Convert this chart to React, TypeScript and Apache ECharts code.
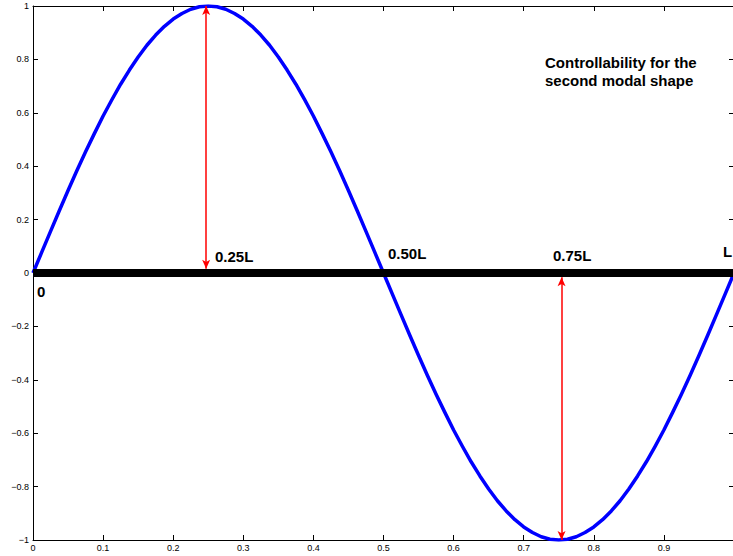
import React, { useEffect, useRef } from "react";
import * as echarts from "echarts";

// Shape (x as fraction of L, deflection), step 0.0125
const xs = [
  0, 0.0125, 0.025, 0.0375, 0.05, 0.0625, 0.075, 0.0875, 0.1, 0.1125, 0.125, 0.1375, 0.15, 0.1625, 0.175, 0.1875, 0.2, 0.2125, 0.225, 0.2375,
  0.25, 0.2625, 0.275, 0.2875, 0.3, 0.3125, 0.325, 0.3375, 0.35, 0.3625, 0.375, 0.3875, 0.4, 0.4125, 0.425, 0.4375, 0.45, 0.4625, 0.475, 0.4875,
  0.5, 0.5125, 0.525, 0.5375, 0.55, 0.5625, 0.575, 0.5875, 0.6, 0.6125, 0.625, 0.6375, 0.65, 0.6625, 0.675, 0.6875, 0.7, 0.7125, 0.725, 0.7375,
  0.75, 0.7625, 0.775, 0.7875, 0.8, 0.8125, 0.825, 0.8375, 0.85, 0.8625, 0.875, 0.8875, 0.9, 0.9125, 0.925, 0.9375, 0.95, 0.9625, 0.975, 0.9875, 1,
];
const ys = [
  0, 0.078, 0.156, 0.233, 0.309, 0.383, 0.454, 0.522, 0.588, 0.649, 0.707, 0.76, 0.809, 0.853, 0.891, 0.924, 0.951, 0.972, 0.988, 0.997,
  1, 0.997, 0.988, 0.972, 0.951, 0.924, 0.891, 0.853, 0.809, 0.76, 0.707, 0.649, 0.588, 0.522, 0.454, 0.383, 0.309, 0.233, 0.156, 0.078,
  0, -0.078, -0.156, -0.233, -0.309, -0.383, -0.454, -0.522, -0.588, -0.649, -0.707, -0.76, -0.809, -0.853, -0.891, -0.924, -0.951, -0.972, -0.988, -0.997,
  -1, -0.997, -0.988, -0.972, -0.951, -0.924, -0.891, -0.853, -0.809, -0.76, -0.707, -0.649, -0.588, -0.522, -0.454, -0.383, -0.309, -0.233, -0.156, -0.078, 0,
];
const beamX = [0, 1];
const beamY = [0, 0];
const arrowUp = { x: 0.247, from: 0.016, to: 1 };
const arrowDown = { x: 0.754, from: -0.016, to: -1 };
const xTicks = [0, 0.1, 0.2, 0.3, 0.4, 0.5, 0.6, 0.7, 0.8, 0.9];
const titleLines = ["Controllability for the", "second modal shape"];
const pointLabels = ["0", "0.25L", "0.50L", "0.75L", "L"];

const FONT = "'Liberation Sans', Arial, Helvetica, sans-serif";

export default function App() {
  const ref = useRef<HTMLDivElement>(null);
  useEffect(() => {
    if (!ref.current) return;
    const chart = echarts.init(ref.current, null, { renderer: "svg" });
    const fmtY = (v: number) => {
      const r = Math.round(v * 10) / 10;
      if (r === 0) return "0";
      return r < 0 ? "\u2212" + String(Math.abs(r)) : String(r);
    };
    const fmtX = (v: number) => {
      const r = Math.round(v * 10) / 10;
      return xTicks.indexOf(r) >= 0 ? String(r) : "";
    };
    const axisCommon = {
      axisLine: { show: true, onZero: false, lineStyle: { color: "#000", width: 1 } },
      axisTick: { show: true, inside: true, length: 5, lineStyle: { color: "#000", width: 1 } },
      splitLine: { show: false },
    };
    const labelStyle = { fontFamily: FONT, fontSize: 9, color: "#000" };
    const boldText = { fontFamily: FONT, fontSize: 15, fontWeight: "bold", fill: "#000" };
    chart.setOption({
      animation: false,
      backgroundColor: "#fff",
      grid: { left: 33, top: 6, width: 701, height: 534, containLabel: false, outerBoundsMode: "none" },
      xAxis: [
        { type: "value", min: 0, max: 1, interval: 0.1, position: "bottom", ...axisCommon,
          axisLabel: { ...labelStyle, margin: 3, formatter: fmtX } },
        { type: "value", min: 0, max: 1, interval: 0.1, position: "top", ...axisCommon,
          axisLabel: { show: false } },
      ],
      yAxis: [
        { type: "value", min: -1, max: 1, interval: 0.2, position: "left", ...axisCommon,
          axisLabel: { ...labelStyle, margin: 4, formatter: fmtY } },
        { type: "value", min: -1, max: 1, interval: 0.2, position: "right", ...axisCommon,
          axisLabel: { show: false } },
      ],
      series: [
        {
          type: "line",
          data: xs.map((x, i) => [x, ys[i]]),
          smooth: false,
          showSymbol: false,
          lineStyle: { color: "#0000ff", width: 3.5, join: "round" },
          z: 2,
          markLine: {
            silent: true,
            symbol: ["arrow", "arrow"],
            symbolSize: [6, 9],
            label: { show: false },
            lineStyle: { color: "#ff0000", width: 1.5, type: "solid" },
            data: [
              [{ coord: [arrowUp.x, arrowUp.from] }, { coord: [arrowUp.x, arrowUp.to] }],
              [{ coord: [arrowDown.x, arrowDown.from] }, { coord: [arrowDown.x, arrowDown.to] }],
            ],
          },
        },
        {
          type: "line",
          data: beamX.map((x, i) => [x, beamY[i]]),
          showSymbol: false,
          lineStyle: { color: "#000", width: 8, cap: "butt" },
          z: 3,
        },
      ],
      graphic: [
        { type: "text", x: 545, y: 53, style: { ...boldText, text: titleLines.join("\n"), lineHeight: 18, textVerticalAlign: "top" } },
        { type: "text", x: 37, y: 291, style: { ...boldText, text: pointLabels[0], textVerticalAlign: "middle" } },
        { type: "text", x: 215, y: 256, style: { ...boldText, text: pointLabels[1], textVerticalAlign: "middle" } },
        { type: "text", x: 388, y: 253, style: { ...boldText, text: pointLabels[2], textVerticalAlign: "middle" } },
        { type: "text", x: 553, y: 255, style: { ...boldText, text: pointLabels[3], textVerticalAlign: "middle" } },
        { type: "text", x: 723, y: 251, style: { ...boldText, text: pointLabels[4], textVerticalAlign: "middle" } },
      ],
    });
    return () => chart.dispose();
  }, []);
  return (
    <div
      ref={ref}
      style={{ position: "fixed", left: 0, top: 0, width: 733, height: 556, background: "#fff" }}
    />
  );
}
